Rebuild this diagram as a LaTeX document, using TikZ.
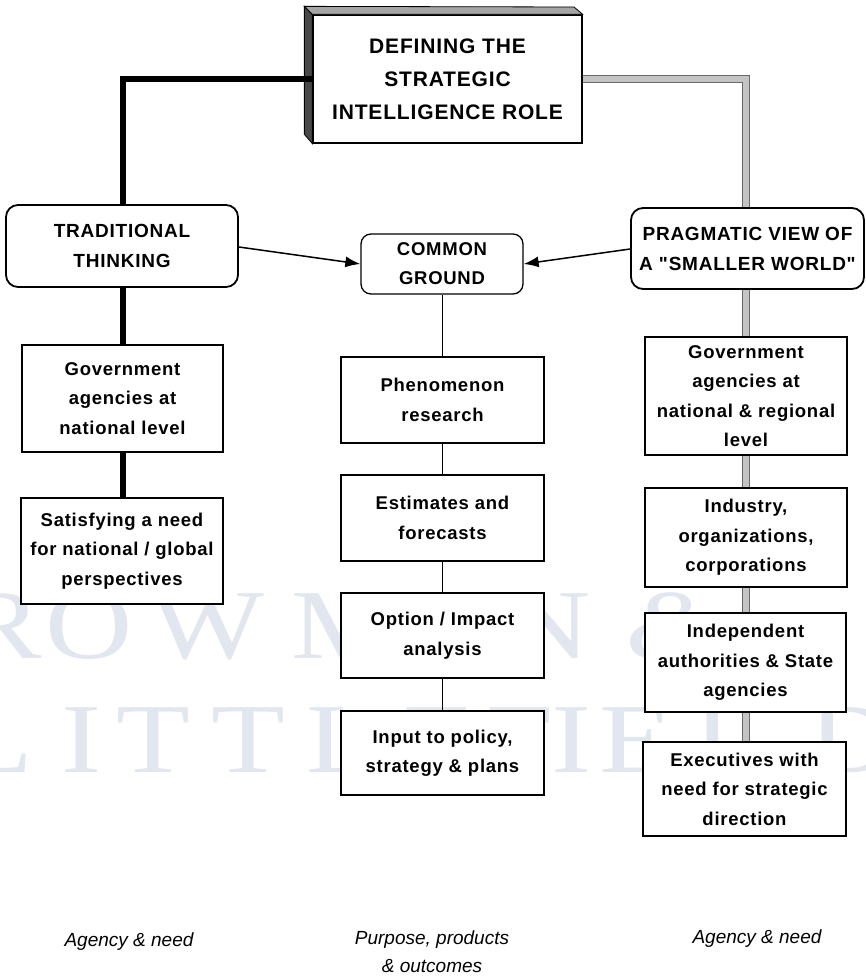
\documentclass[tikz,border=0pt]{standalone}
\usepackage{fontspec}
\setmainfont{Liberation Sans}
\newfontfamily\boxfont{Liberation Sans}[LetterSpace=4]
\newfontfamily\markfont{Liberation Serif}
\usetikzlibrary{arrows.meta}
\definecolor{wmark}{RGB}{225,230,239}
\definecolor{barfill}{RGB}{196,196,196}
\definecolor{baredge}{RGB}{105,105,105}
\definecolor{sidedark}{RGB}{72,72,72}
\definecolor{topgray}{RGB}{165,165,165}

\newcommand{\wl}[1]{\scalebox{1.22}[1]{#1}}

\begin{document}
\begin{tikzpicture}[x=1pt,y=-1pt,
  box/.style={draw=black, line width=1.3pt, fill=white, align=center, inner sep=0pt,
    font=\boxfont\bfseries\fontsize{18.5}{29.5}\selectfont},
  headbox/.style={box, rounded corners=12pt, line width=1.8pt,
    font=\boxfont\bfseries\fontsize{19}{30}\selectfont},
  titlebox/.style={box, line width=1.3pt,
    font=\boxfont\bfseries\fontsize{21}{33}\selectfont},
  blackbar/.style={draw=black, line width=5.5pt},
  graybar/.style={draw=baredge, line width=1.2pt, double=barfill, double distance=5.6pt},
  thinbar/.style={draw=black, line width=1.6pt},
  feed/.style={draw=black, line width=1.5pt, -{Latex[length=15pt,width=11pt]}},
  caption/.style={align=center, font=\itshape\fontsize{19}{28}\selectfont},
  wm/.style={anchor=base, inner sep=0pt, text=wmark, font=\markfont\fontsize{99}{99}\selectfont}
]
\useasboundingbox (0,0) rectangle (866,979);
\fill[white] (0,0) rectangle (866,979);

% faint publisher lettering behind the chart
\node[wm] (wR1) at (2,658) {\wl{R}};
\node[wm] (wO1) at (89,658) {\wl{O}};
\node[wm] (wW1) at (207,658) {\wl{W}};
\node[wm] (wM1) at (345,658) {\wl{M}};
\node[wm] (wA1) at (460,658) {\wl{A}};
\node[wm] (wN1) at (547,658) {\wl{N}};
\node[wm] (wAmp) at (672,658) {\wl{\itshape\&}};
\node[wm] (wL2) at (-4,772) {\wl{L}};
\node[wm] (wI2) at (82,772) {\wl{I}};
\node[wm] (wT2) at (153,772) {\wl{T}};
\node[wm] (wT3) at (248,772) {\wl{T}};
\node[wm] (wL3) at (343,772) {\wl{L}};
\node[wm] (wE2) at (440,772) {\wl{E}};
\node[wm] (wF2) at (520,772) {\wl{F}};
\node[wm] (wI3) at (572,772) {\wl{I}};
\node[wm] (wE3) at (636,772) {\wl{E}};
\node[wm] (wL4) at (730,772) {\wl{L}};
\node[wm] (wD2) at (852,772) {\wl{D}};

% title block with its bevelled top and left faces
\node[titlebox, minimum width=269pt, minimum height=128pt] (title) at (447.5,79)
  {DEFINING THE\\STRATEGIC\\INTELLIGENCE ROLE};
\filldraw[fill=sidedark, draw=black, line width=0.8pt]
  (title.north west) -- ++(-8,-8) -- ++(0,128) -- (title.south west) -- cycle;
\filldraw[fill=topgray, draw=black, line width=0.8pt]
  (title.north west) -- ++(-8,-8) -- (574,7) -- (title.north east) -- cycle;

% three column heads
\node[headbox, minimum width=232pt, minimum height=82pt] (trad) at (122,246)
  {TRADITIONAL\\THINKING};
\node[headbox, minimum width=233pt, minimum height=81pt] (prag) at (747.5,248.5)
  {PRAGMATIC VIEW OF\\A "SMALLER WORLD"};
\node[headbox, line width=1.3pt, rounded corners=10pt, minimum width=162pt, minimum height=60pt,
  font=\boxfont\bfseries\fontsize{18.5}{29}\selectfont] (common) at (442,264)
  {COMMON\\GROUND};

% left column
\node[box, minimum width=201pt, minimum height=107pt] (l1) at (122.5,398.5)
  {Government\\agencies at\\national level};
\node[box, minimum width=202pt, minimum height=106pt] (l2) at (122,551)
  {Satisfying a need\\for national / global\\perspectives};

% middle column
\node[box, minimum width=203pt, minimum height=86pt] (m1) at (442.5,400)
  {Phenomenon\\research};
\node[box, minimum width=203pt, minimum height=86pt] (m2) at (442.5,518)
  {Estimates and\\forecasts};
\node[box, minimum width=203pt, minimum height=85pt] (m3) at (442.5,635.5)
  {Option / Impact\\analysis};
\node[box, minimum width=203pt, minimum height=84pt] (m4) at (442.5,753)
  {Input to policy,\\strategy \& plans};

% right column
\node[box, minimum width=202pt, minimum height=118pt] (r1) at (746,396)
  {Government\\agencies at\\national \& regional\\level};
\node[box, minimum width=202pt, minimum height=99pt] (r2) at (746,537.5)
  {Industry,\\organizations,\\corporations};
\node[box, minimum width=201pt, minimum height=99pt] (r3) at (745.5,662.5)
  {Independent\\authorities \& State\\agencies};
\node[box, minimum width=203pt, minimum height=94pt] (r4) at (744.5,789)
  {Executives with\\need for strategic\\direction};

% connectors: thick black spine on the left, hollow grey spine on the right
\coordinate (lx) at (123,0);
\coordinate (rx) at (746,0);
\coordinate (mx) at (442.5,0);
\draw[blackbar] (title.west) -| (lx |- trad.north);
\draw[blackbar] (lx |- trad.south) -- (lx |- l1.north);
\draw[blackbar] (lx |- l1.south) -- (lx |- l2.north);

\draw[graybar] (title.east) -| (rx |- prag.north);
\draw[graybar] (rx |- prag.south) -- (rx |- r1.north);
\draw[graybar] (rx |- r1.south) -- (rx |- r2.north);
\draw[graybar] (rx |- r2.south) -- (rx |- r3.north);
\draw[graybar] (rx |- r3.south) -- (rx |- r4.north);

\draw[thinbar] (mx |- common.south) -- (mx |- m1.north);
\draw[thinbar] (mx |- m1.south) -- (mx |- m2.north);
\draw[thinbar] (mx |- m2.south) -- (mx |- m3.north);
\draw[thinbar] (mx |- m3.south) -- (mx |- m4.north);

\draw[feed] (trad.east |- 0,247) -- (common.west);
\draw[feed] (prag.west |- 0,249) -- (common.east);

% column captions
\node[caption] (capL) at (129,942) {Agency \& need};
\node[caption, anchor=north] (capM) at (432,927) {Purpose, products\\\& outcomes};
\node[caption] (capR) at (757,939) {Agency \& need};
\end{tikzpicture}
\end{document}
